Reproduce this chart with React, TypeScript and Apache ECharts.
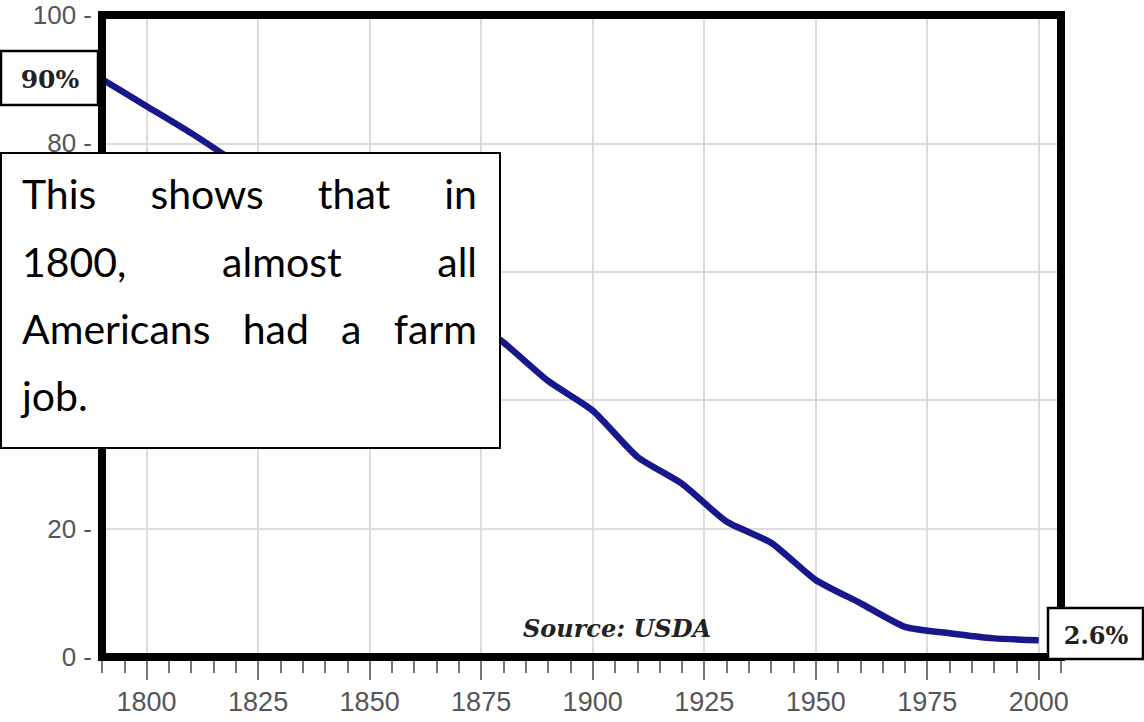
import React, { useEffect, useRef } from "react";
import * as echarts from "echarts";

// ---- data ----
const years = [1790, 1800, 1810, 1820, 1830, 1840, 1850, 1860, 1870, 1880, 1890, 1900, 1910, 1920, 1930, 1940, 1950, 1960, 1970, 1980, 1990, 2000];
const farmShare = [90, 85.8, 81.6, 77, 72.2, 67.6, 63, 58.5, 54, 49, 43, 38.4, 31.2, 27, 21.1, 17.8, 12, 8.4, 4.7, 3.7, 2.9, 2.6];
const majorYears = [1800, 1825, 1850, 1875, 1900, 1925, 1950, 1975, 2000];
const minorYears = [1790, 1795, 1800, 1805, 1810, 1815, 1820, 1825, 1830, 1835, 1840, 1845, 1850, 1855, 1860, 1865, 1870, 1875, 1880, 1885, 1890, 1895, 1900, 1905, 1910, 1915, 1920, 1925, 1930, 1935, 1940, 1945, 1950, 1955, 1960, 1965, 1970, 1975, 1980, 1985, 1990, 1995, 2000, 2005];
// y labels hidden behind the note box in the reference
const hiddenYLabels = [40, 60];
const X_MIN = 1790;
const X_MAX = 2005;
const Y_MIN = 0;
const Y_MAX = 100;
const Y_STEP = 20;
const startLabel = "90%";
const endLabel = "2.6%";
const sourceText = "Source: USDA";
const noteLines = [
  ["This", "shows", "that", "in"],
  ["1800,", "almost", "all"],
  ["Americans", "had", "a", "farm"],
  ["job."],
];

const NOTE_FONT_SIZE = 41;
const NOTE_FONT_FAMILY = "Lato";

function measure(text: string, font: string): number {
  const c = document.createElement("canvas").getContext("2d");
  if (!c) return text.length * 20;
  c.font = font;
  return c.measureText(text).width;
}

function textEl(text: string, x: number, y: number, opts: any, z: number) {
  return {
    type: "text",
    z,
    style: {
      text,
      x,
      y,
      fill: opts.fill || "#000",
      fontSize: opts.fontSize,
      fontFamily: opts.fontFamily,
      fontWeight: opts.fontWeight || "normal",
      fontStyle: opts.fontStyle || "normal",
      align: opts.align || "center",
      textAlign: opts.align || "center",
      verticalAlign: "middle",
      textVerticalAlign: "middle",
    },
  };
}

function buildGraphics(tl: number[], br: number[]) {
  const els: any[] = [];
  // plot frame
  els.push({
    type: "rect",
    z: 10,
    shape: { x: tl[0], y: tl[1], width: br[0] - tl[0], height: br[1] - tl[1] },
    style: { fill: "none", stroke: "#000", lineWidth: 8 },
  });
  // start value box
  els.push({
    type: "rect",
    z: 20,
    shape: { x: 1, y: 51, width: 97, height: 54 },
    style: { fill: "#fff", stroke: "#000", lineWidth: 2.5 },
  });
  els.push(textEl(startLabel, 50, 79, { fontSize: 25, fontFamily: "DejaVu Serif", fontWeight: "bold", fill: "#222" }, 21));
  // end value box
  els.push({
    type: "rect",
    z: 20,
    shape: { x: 1048, y: 608, width: 95, height: 51 },
    style: { fill: "#fff", stroke: "#000", lineWidth: 2.5 },
  });
  els.push(textEl(endLabel, 1096, 635, { fontSize: 24, fontFamily: "DejaVu Serif", fontWeight: "bold", fill: "#222" }, 21));
  // source
  els.push(textEl(sourceText, 617, 628, { fontSize: 24, fontFamily: "DejaVu Serif", fontWeight: "bold", fontStyle: "italic", fill: "#222" }, 21));
  // note box
  els.push({
    type: "rect",
    z: 30,
    shape: { x: 1, y: 153, width: 499, height: 295 },
    style: { fill: "#fff", stroke: "#000", lineWidth: 2 },
  });
  const font = `${NOTE_FONT_SIZE}px ${NOTE_FONT_FAMILY}`;
  const left = 22;
  const right = 477;
  const baselines = [208, 276, 343, 410];
  noteLines.forEach((words, li) => {
    const y = baselines[li] - NOTE_FONT_SIZE * 0.35;
    const widths = words.map((w) => measure(w, font));
    const total = widths.reduce((a, b) => a + b, 0);
    const last = li === noteLines.length - 1;
    const gap = !last && words.length > 1 ? (right - left - total) / (words.length - 1) : measure(" ", font);
    let x = left;
    words.forEach((w, i) => {
      els.push(textEl(w, x, y, { fontSize: NOTE_FONT_SIZE, fontFamily: NOTE_FONT_FAMILY, align: "left", fill: "#000" }, 31));
      x += widths[i] + gap;
    });
  });
  return els;
}

export default function App() {
  const ref = useRef<HTMLDivElement>(null);
  useEffect(() => {
    if (!ref.current) return;
    const chart = echarts.init(ref.current, null, { renderer: "svg" });
    const option: any = {
      animation: false,
      backgroundColor: "#fff",
      grid: { left: 102, right: 83, top: 15, bottom: 65, containLabel: false },
      xAxis: [
        {
          type: "value",
          min: X_MIN,
          max: X_MAX,
          axisLine: { show: false },
          axisTick: {
            show: true,
            customValues: majorYears,
            length: 23,
            lineStyle: { color: "#777", width: 2 },
          },
          axisLabel: {
            show: true,
            customValues: majorYears,
            formatter: (v: number) => String(v),
            margin: 31,
            fontSize: 27,
            fontFamily: "Liberation Sans",
            color: "#555",
          },
          splitLine: { show: true, lineStyle: { color: "#dcdcdc", width: 2 } },
        },
        {
          type: "value",
          min: X_MIN,
          max: X_MAX,
          position: "bottom",
          axisLine: { show: false },
          axisTick: {
            show: true,
            customValues: minorYears,
            length: 16,
            lineStyle: { color: "#777", width: 2 },
          },
          axisLabel: { show: false },
          splitLine: { show: false },
        },
      ],
      yAxis: {
        type: "value",
        min: Y_MIN,
        max: Y_MAX,
        interval: Y_STEP,
        axisLine: { show: false },
        axisTick: { show: false },
        axisLabel: {
          formatter: (v: number) => (hiddenYLabels.indexOf(v) >= 0 ? "" : `${v} -`),
          margin: 10,
          fontSize: 26,
          fontFamily: "Liberation Sans",
          color: "#555",
        },
        splitLine: { show: true, lineStyle: { color: "#dcdcdc", width: 2 } },
      },
      series: [
        {
          type: "line",
          xAxisIndex: 0,
          yAxisIndex: 0,
          data: years.map((y, i) => [y, farmShare[i]]),
          showSymbol: false,
          symbol: "none",
          smooth: 0.2,
          lineStyle: { color: "#18188c", width: 6.5 },
          z: 3,
        },
      ],
    };
    chart.setOption(option);
    const tl = chart.convertToPixel({ gridIndex: 0 }, [X_MIN, Y_MAX]) as number[];
    const br = chart.convertToPixel({ gridIndex: 0 }, [X_MAX, Y_MIN]) as number[];
    chart.setOption({ graphic: { elements: buildGraphics(tl, br) } });
    return () => chart.dispose();
  }, []);
  return (
    <div
      ref={ref}
      style={{ position: "fixed", left: 0, top: 0, width: 1144, height: 722, background: "#fff" }}
    />
  );
}
